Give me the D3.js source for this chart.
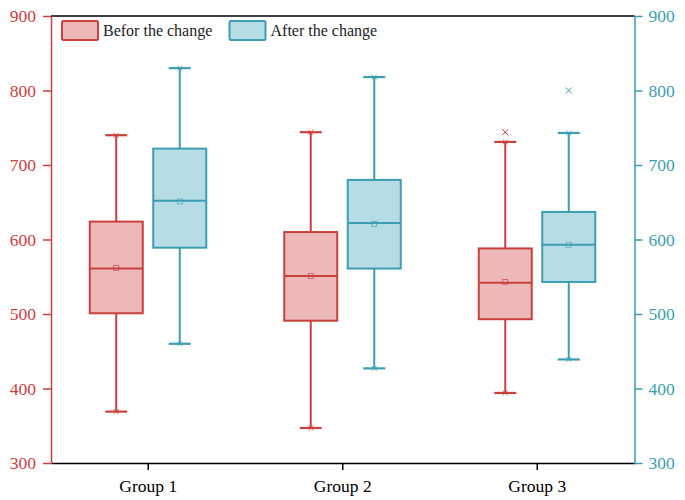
<!DOCTYPE html>
<html>
<head>
<meta charset="utf-8">
<script src="https://cdn.jsdelivr.net/npm/d3@7"></script>
<style>
  body { margin: 0; background: #fff; }
  text { font-family: "Liberation Serif", "DejaVu Serif", serif; }
</style>
</head>
<body>
<div id="chart"></div>
<script>
// groups and series
const groups = ["Group 1", "Group 2", "Group 3"];
const seriesNames = ["Befor the change", "After the change"];

// Befor the change
const beforeMin = [369, 347, 394];
const beforeQ1 = [501, 491, 493];
const beforeMedian = [561, 551, 542];
const beforeQ3 = [624, 610, 588];
const beforeMax = [740, 744, 731];
const beforeMean = [562, 551, 543];
const beforeOutliers = [[], [], [744]];

// After the change
const afterMin = [460, 427, 439];
const afterQ1 = [589, 561, 543];
const afterMedian = [652, 622, 593];
const afterQ3 = [722, 680, 637];
const afterMax = [830, 818, 743];
const afterMean = [651, 621, 593];
const afterOutliers = [[], [], [800]];

const yTicks = [300, 400, 500, 600, 700, 800, 900];

const red = "#c9403c", redFill = "#ecb9b8";
const blue = "#3d9db3", blueFill = "#b6dde5";

const margin = {top: 16, right: 50.5, bottom: 37, left: 51};
const width = 685 - margin.left - margin.right;
const height = 500 - margin.top - margin.bottom;

const svg = d3.select("#chart").append("svg")
    .attr("width", 685)
    .attr("height", 500)
    .append("g")
    .attr("transform", `translate(${margin.left}, ${margin.top})`);

const x = d3.scaleBand().domain(groups).range([0, width]);
const sub = d3.scalePoint().domain(seriesNames).range([-32, 31.5]);
const y = d3.scaleLinear().domain([300, 900]).range([height, 0]);

const boxW = 53, capW = 22;

// build rows for each box
const series = [
    {name: seriesNames[0], stroke: red, fill: redFill,
     min: beforeMin, q1: beforeQ1, med: beforeMedian, q3: beforeQ3, max: beforeMax, mean: beforeMean, out: beforeOutliers},
    {name: seriesNames[1], stroke: blue, fill: blueFill,
     min: afterMin, q1: afterQ1, med: afterMedian, q3: afterQ3, max: afterMax, mean: afterMean, out: afterOutliers}
];

series.forEach(s => {
    const rows = groups.map((g, i) => ({
        cx: x(g) + x.bandwidth() / 2 + sub(s.name),
        min: s.min[i], q1: s.q1[i], med: s.med[i], q3: s.q3[i], max: s.max[i], mean: s.mean[i], out: s.out[i]
    }));
    const gS = svg.append("g");

    // whiskers
    gS.selectAll(".wl").data(rows).enter().append("line")
        .attr("x1", d => d.cx).attr("x2", d => d.cx)
        .attr("y1", d => y(d.max)).attr("y2", d => y(d.min))
        .attr("stroke", s.stroke).attr("stroke-width", 2);

    // caps
    ["min", "max"].forEach(k => {
        gS.selectAll(".cap" + k).data(rows).enter().append("line")
            .attr("x1", d => d.cx - capW / 2).attr("x2", d => d.cx + capW / 2)
            .attr("y1", d => y(d[k])).attr("y2", d => y(d[k]))
            .attr("stroke", s.stroke).attr("stroke-width", 2.2);
        // small x markers at whisker ends
        gS.selectAll(".xm" + k).data(rows).enter().append("path")
            .attr("d", d => {
                const cx = d.cx, cy = y(d[k]), r = 2.5;
                return `M${cx - r},${cy - r}L${cx + r},${cy + r}M${cx - r},${cy + r}L${cx + r},${cy - r}`;
            })
            .attr("stroke", s.stroke).attr("stroke-width", 0.8).attr("fill", "none");
    });

    // boxes
    gS.selectAll(".box").data(rows).enter().append("rect")
        .attr("x", d => d.cx - boxW / 2)
        .attr("y", d => y(d.q3))
        .attr("width", boxW)
        .attr("height", d => y(d.q1) - y(d.q3))
        .attr("fill", s.fill)
        .attr("stroke", s.stroke)
        .attr("stroke-width", 2);

    // median
    gS.selectAll(".med").data(rows).enter().append("line")
        .attr("x1", d => d.cx - boxW / 2).attr("x2", d => d.cx + boxW / 2)
        .attr("y1", d => y(d.med)).attr("y2", d => y(d.med))
        .attr("stroke", s.stroke).attr("stroke-width", 2);

    // mean marker
    gS.selectAll(".mean").data(rows).enter().append("rect")
        .attr("x", d => d.cx - 2.5).attr("y", d => y(d.mean) - 2.5)
        .attr("width", 5).attr("height", 5)
        .attr("fill", "none").attr("stroke", s.stroke).attr("stroke-width", 0.8)
        .attr("opacity", 0.8);

    // outliers
    const outs = rows.flatMap(d => d.out.map(v => ({cx: d.cx, v: v})));
    gS.selectAll(".out").data(outs).enter().append("path")
        .attr("d", d => {
            const cx = d.cx, cy = y(d.v), r = 3;
            return `M${cx - r},${cy - r}L${cx + r},${cy + r}M${cx - r},${cy + r}L${cx + r},${cy - r}`;
        })
        .attr("stroke", s.stroke).attr("stroke-width", 1).attr("fill", "none");
});

// top border
svg.append("line")
    .attr("x1", 0).attr("x2", width).attr("y1", 0).attr("y2", 0)
    .attr("stroke", "black").attr("stroke-width", 1.5);

// x axis
const xAxis = svg.append("g")
    .attr("font-family", "Liberation Serif")
    .attr("transform", `translate(0, ${height})`)
    .call(d3.axisBottom(x).tickSize(7).tickSizeOuter(0).tickPadding(10));
xAxis.attr("font-family", "Liberation Serif");
xAxis.select(".domain").attr("stroke", "black").attr("stroke-width", 1.5);
xAxis.selectAll(".tick line").attr("stroke", "black").attr("stroke-width", 1.5);
xAxis.selectAll("text").attr("fill", "black").attr("font-size", "17.5px");

// left y axis
const yLeft = svg.append("g")
    .call(d3.axisLeft(y).tickValues(yTicks).tickSize(8).tickSizeOuter(0).tickPadding(7));
yLeft.attr("font-family", "Liberation Serif");
yLeft.select(".domain").attr("stroke", red).attr("stroke-width", 1.5);
yLeft.selectAll(".tick line").attr("stroke", red).attr("stroke-width", 1.5);
yLeft.selectAll("text").attr("fill", red).attr("font-size", "17.5px");

// right y axis
const yRight = svg.append("g")
    .attr("transform", `translate(${width}, 0)`)
    .call(d3.axisRight(y).tickValues(yTicks).tickSize(8).tickSizeOuter(0).tickPadding(6));
yRight.attr("font-family", "Liberation Serif");
yRight.select(".domain").attr("stroke", blue).attr("stroke-width", 1.5);
yRight.selectAll(".tick line").attr("stroke", blue).attr("stroke-width", 1.5);
yRight.selectAll("text").attr("fill", blue).attr("font-size", "17.5px");

// legend
const legend = svg.append("g").attr("transform", "translate(11, 5)");
const legX = [0, 167.5];
series.forEach((s, i) => {
    const lg = legend.append("g").attr("transform", `translate(${legX[i]}, 0)`);
    lg.append("rect")
        .attr("x", 0).attr("y", 0).attr("width", 36).attr("height", 19)
        .attr("rx", 1.5)
        .attr("fill", s.fill).attr("stroke", s.stroke).attr("stroke-width", 2);
    lg.append("text")
        .attr("x", 41).attr("y", 15)
        .attr("font-size", "16px").attr("fill", "#222")
        .text(s.name);
});
</script>
</body>
</html>
